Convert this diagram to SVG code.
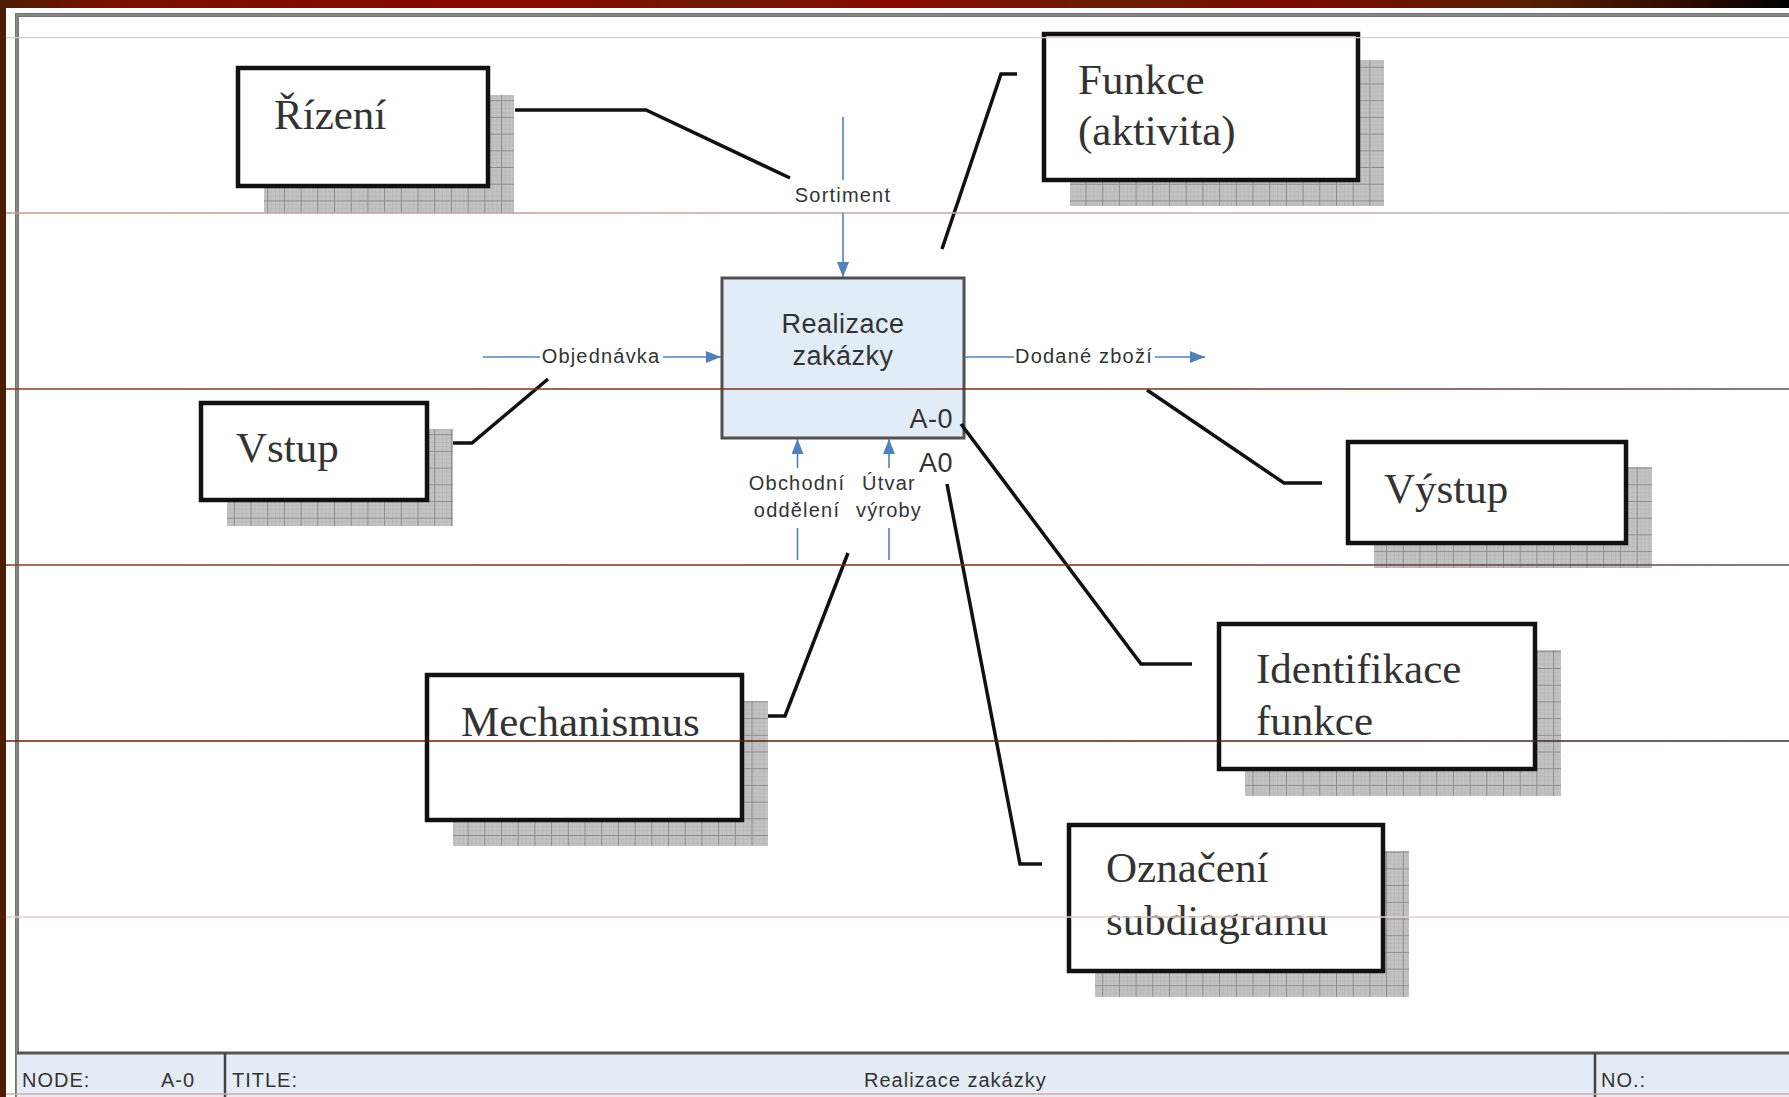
<svg xmlns="http://www.w3.org/2000/svg" width="1789" height="1097" viewBox="0 0 1789 1097">
<defs>
<linearGradient id="topbar" x1="0" y1="0" x2="1789" y2="0" gradientUnits="userSpaceOnUse">
<stop offset="0" stop-color="#4e1c00"/>
<stop offset="0.06" stop-color="#7a1200"/>
<stop offset="0.3" stop-color="#8a0800"/>
<stop offset="0.4" stop-color="#6e1a00"/>
<stop offset="0.5" stop-color="#8a0a00"/>
<stop offset="0.62" stop-color="#6a2000"/>
<stop offset="0.72" stop-color="#7c0a00"/>
<stop offset="0.85" stop-color="#5a2000"/>
<stop offset="0.95" stop-color="#2a0a00"/>
<stop offset="1" stop-color="#000000"/>
</linearGradient>
<linearGradient id="ruleDark" x1="0" y1="0" x2="1789" y2="0" gradientUnits="userSpaceOnUse">
<stop offset="0" stop-color="#8a3a28"/>
<stop offset="0.6" stop-color="#7a2a1a"/>
<stop offset="1" stop-color="#555555"/>
</linearGradient>
<linearGradient id="ruleDarker" x1="0" y1="0" x2="1789" y2="0" gradientUnits="userSpaceOnUse">
<stop offset="0" stop-color="#6a1c0c"/>
<stop offset="0.6" stop-color="#5a1a0a"/>
<stop offset="1" stop-color="#333333"/>
</linearGradient>
<linearGradient id="ruleMid" x1="0" y1="0" x2="1789" y2="0" gradientUnits="userSpaceOnUse">
<stop offset="0" stop-color="#c89888"/>
<stop offset="1" stop-color="#b8b8b8"/>
</linearGradient>
<pattern id="grid" width="16.7" height="16.7" patternUnits="userSpaceOnUse">
<rect width="16.7" height="16.7" fill="#c3c3c3"/>
<path d="M0,4.2 H16.7 M0,8.35 H16.7 M0,12.5 H16.7 M4.2,0 V16.7 M8.35,0 V16.7 M12.5,0 V16.7" stroke="#b4b4b4" stroke-width="0.6"/>
<path d="M0,0.5 H16.7 M0.5,0 V16.7" stroke="#8c8c8c" stroke-width="1"/>
</pattern>
<marker id="arr" markerUnits="userSpaceOnUse" markerWidth="15" markerHeight="12" refX="15" refY="6" orient="auto">
<path d="M0,0 L15,6 L0,12 z" fill="#4f81bd"/>
</marker>
<style>
.shadow{fill:url(#grid)}
.box{fill:#ffffff;stroke:#111111;stroke-width:4.5}
.lbl{font-family:"Liberation Serif","Times New Roman",serif;font-size:43px;fill:#333333}
.callout{fill:none;stroke:#111111;stroke-width:3.5;stroke-linejoin:miter}
.flow{fill:none;stroke:#4f81bd;stroke-width:1.6}
.idef{font-family:"Liberation Sans",Arial,sans-serif;font-size:20px;fill:#333333;letter-spacing:1.2px}
.act{font-family:"Liberation Sans",Arial,sans-serif;font-size:27px;fill:#333333;letter-spacing:0.5px}
.tb{font-family:"Liberation Sans",Arial,sans-serif;font-size:20px;fill:#333333;letter-spacing:1px}
.rule{fill:none;stroke-width:1.3}
</style>
</defs>

<g id="background">
<rect x="0" y="0" width="1789" height="1097" fill="#ffffff"/>
<rect x="0" y="0" width="1789" height="8" fill="url(#topbar)"/>
<rect x="0" y="0" width="6" height="1097" fill="#4e1c00"/>
<path d="M17,1097 V15 H1789" fill="none" stroke="#737373" stroke-width="4"/>
<path d="M17,1097 V15 H1789" fill="none" stroke="#9a9a9a" stroke-width="1"/>
</g>

<g id="title-block">
<rect x="17" y="1053" width="1772" height="50" fill="#e4edf6"/>
<line x1="17" y1="1053" x2="1789" y2="1053" stroke="#555555" stroke-width="3"/>
<line x1="225" y1="1053" x2="225" y2="1097" stroke="#444444" stroke-width="2.5"/>
<line x1="1595" y1="1053" x2="1595" y2="1097" stroke="#444444" stroke-width="2.5"/>
<text class="tb" x="22" y="1087">NODE:</text>
<text class="tb" x="161" y="1087">A-0</text>
<text class="tb" x="232" y="1087">TITLE:</text>
<text class="tb" x="864" y="1087">Realizace zakázky</text>
<text class="tb" x="1601" y="1087">NO.:</text>
</g>

<g id="activity-A0">
<rect x="722" y="278" width="242" height="160" fill="#e2ecf7" stroke="#505050" stroke-width="3"/>
<text class="act" x="843" y="333" text-anchor="middle">Realizace</text>
<text class="act" x="843" y="365" text-anchor="middle">zakázky</text>
<text class="act" x="953" y="428" text-anchor="end">A-0</text>
<text class="act" x="953" y="472" text-anchor="end">A0</text>
</g>

<g id="node-rizeni">
<rect class="shadow" x="264" y="95" width="250" height="118"/>
<rect class="box" x="238" y="68" width="250" height="118"/>
<text class="lbl" x="274" y="129">Řízení</text>
</g>

<g id="node-funkce">
<rect class="shadow" x="1070" y="60" width="314" height="146"/>
<rect class="box" x="1044" y="34" width="314" height="146"/>
<text class="lbl" x="1078" y="94">Funkce</text>
<text class="lbl" x="1078" y="145">(aktivita)</text>
</g>

<g id="node-vstup">
<rect class="shadow" x="227" y="429" width="226" height="97"/>
<rect class="box" x="201" y="403" width="226" height="97"/>
<text class="lbl" x="236" y="462">Vstup</text>
</g>

<g id="node-vystup">
<rect class="shadow" x="1374" y="467" width="278" height="101"/>
<rect class="box" x="1348" y="442" width="278" height="101"/>
<text class="lbl" x="1384" y="503">Výstup</text>
</g>

<g id="node-mechanismus">
<rect class="shadow" x="453" y="701" width="315" height="145"/>
<rect class="box" x="427" y="675" width="315" height="145"/>
<text class="lbl" x="461" y="736">Mechanismus</text>
</g>

<g id="node-identifikace">
<rect class="shadow" x="1245" y="650" width="316" height="146"/>
<rect class="box" x="1219" y="624" width="316" height="145"/>
<text class="lbl" x="1256" y="683">Identifikace</text>
<text class="lbl" x="1256" y="735">funkce</text>
</g>

<g id="node-oznaceni">
<rect class="shadow" x="1095" y="851" width="314" height="146"/>
<rect class="box" x="1069" y="825" width="314" height="146"/>
<text class="lbl" x="1106" y="882">Označení</text>
<text class="lbl" x="1106" y="935">subdiagramu</text>
</g>

<g id="connectors">
<path class="flow" d="M843,117 V180"/>
<path class="flow" d="M843,212 V277" marker-end="url(#arr)"/>
<text class="idef" x="843" y="202" text-anchor="middle">Sortiment</text>
<path class="flow" d="M483,357 H540"/>
<path class="flow" d="M663,357 H721" marker-end="url(#arr)"/>
<text class="idef" x="601" y="363" text-anchor="middle">Objednávka</text>
<path class="flow" d="M965,357 H1014"/>
<path class="flow" d="M1155,357 H1205" marker-end="url(#arr)"/>
<text class="idef" x="1084" y="363" text-anchor="middle">Dodané zboží</text>
<path class="flow" d="M797.5,560 V528"/>
<path class="flow" d="M797.5,468 V439" marker-end="url(#arr)"/>
<text class="idef" x="797" y="490" text-anchor="middle">Obchodní</text>
<text class="idef" x="797" y="517" text-anchor="middle">oddělení</text>
<path class="flow" d="M889,560 V528"/>
<path class="flow" d="M889,468 V439" marker-end="url(#arr)"/>
<text class="idef" x="889" y="490" text-anchor="middle">Útvar</text>
<text class="idef" x="889" y="517" text-anchor="middle">výroby</text>

<path class="callout" d="M515,110 L646,110 L790,178"/>
<path class="callout" d="M942,249 L1001,74 L1017,74"/>
<path class="callout" d="M453,443 L472,443 L548,379"/>
<path class="callout" d="M768,716 L785,716 L848,553"/>
<path class="callout" d="M1147,390 L1284,483 L1322,483"/>
<path class="callout" d="M961,424 L1141,664 L1192,664"/>
<path class="callout" d="M947,484 L1020,864 L1042,864"/>
</g>

<g id="ruled-lines">
<line class="rule" x1="6" y1="37.6" x2="1789" y2="37.6" stroke="#e0ccc6"/>
<line class="rule" x1="6" y1="213" x2="1789" y2="213" stroke="url(#ruleMid)"/>
<line class="rule" x1="6" y1="389" x2="1789" y2="389" stroke="url(#ruleDark)"/>
<line class="rule" x1="6" y1="565" x2="1789" y2="565" stroke="url(#ruleDark)"/>
<line class="rule" x1="6" y1="741" x2="1789" y2="741" stroke="url(#ruleDarker)"/>
<line class="rule" x1="6" y1="917" x2="1789" y2="917" stroke="#e6cccc"/>
<line class="rule" x1="6" y1="1094" x2="1789" y2="1094" stroke="#d8a8a8"/>
</g>
</svg>
